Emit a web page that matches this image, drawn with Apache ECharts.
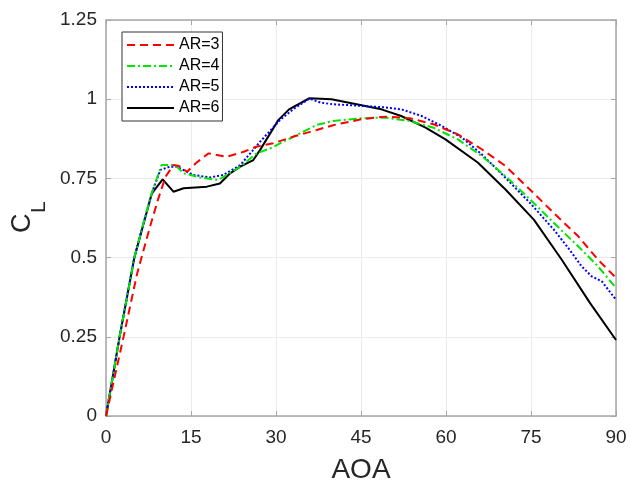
<!DOCTYPE html>
<html>
<head>
<meta charset="utf-8">
<script src="https://cdn.jsdelivr.net/npm/echarts@6/dist/echarts.min.js"></script>
<style>
html,body{margin:0;padding:0;background:#fff;overflow:hidden;}
#c{width:630px;height:482px;}
</style>
</head>
<body>
<div id="c"></div>
<script>
var xTicks = [0, 15, 30, 45, 60, 75, 90];
var yTicks = [0, 0.25, 0.5, 0.75, 1, 1.25];
var seriesNames = ['AR=3', 'AR=4', 'AR=5', 'AR=6'];

var ar3X = [0, 3.1, 5.5, 7.8, 9.3, 10.5, 11.9, 12.9, 14.3, 16.0, 18.1, 21.3, 24.3, 26.5, 29.5, 33.1, 37.2, 40.1, 45.1, 49.3, 53.6, 57.8, 62.1, 66.3, 70.5, 74.8, 79.0, 83.3, 86.8, 90];
var ar3Y = [0, 0.25, 0.45, 0.60, 0.69, 0.755, 0.792, 0.789, 0.771, 0.80, 0.829, 0.818, 0.834, 0.850, 0.861, 0.882, 0.903, 0.918, 0.937, 0.945, 0.940, 0.921, 0.889, 0.842, 0.789, 0.715, 0.641, 0.568, 0.494, 0.436];

var ar4X = [0, 2.4, 5.0, 8.0, 9.8, 12.2, 13.7, 16.6, 19.8, 21.3, 23.7, 26.6, 29.0, 31.9, 37.2, 40.1, 45.1, 49.3, 53.6, 57.8, 62.1, 66.3, 70.5, 74.8, 79.0, 83.3, 86.8, 90];
var ar4Y = [0, 0.25, 0.50, 0.70, 0.792, 0.792, 0.766, 0.753, 0.745, 0.761, 0.787, 0.829, 0.845, 0.871, 0.919, 0.931, 0.940, 0.942, 0.931, 0.910, 0.873, 0.821, 0.757, 0.684, 0.610, 0.536, 0.473, 0.404];

var ar5X = [0, 2.4, 5.0, 8.0, 9.6, 11.3, 12.5, 15.4, 18.4, 20.7, 23.7, 27.2, 30.7, 33.0, 35.9, 37.9, 40.1, 45.1, 49.3, 52.1, 55.7, 59.2, 62.8, 66.3, 70.5, 74.8, 79.0, 81.8, 83.9, 85.7, 87.5, 90];
var ar5Y = [0, 0.25, 0.50, 0.70, 0.777, 0.787, 0.787, 0.761, 0.753, 0.761, 0.792, 0.866, 0.934, 0.968, 1.002, 0.989, 0.984, 0.979, 0.974, 0.968, 0.947, 0.916, 0.879, 0.826, 0.752, 0.673, 0.589, 0.525, 0.473, 0.441, 0.425, 0.367];

var ar6X = [0, 2.4, 5.0, 8.1, 10.0, 11.9, 13.7, 17.8, 20.1, 21.9, 23.7, 26.0, 27.2, 30.4, 32.3, 35.9, 39.8, 45.1, 48.6, 52.1, 56.4, 59.9, 65.6, 70.5, 75.5, 80.4, 85.4, 90];
var ar6Y = [0, 0.25, 0.50, 0.703, 0.747, 0.708, 0.719, 0.724, 0.734, 0.766, 0.787, 0.808, 0.840, 0.934, 0.968, 1.003, 1.000, 0.981, 0.968, 0.947, 0.910, 0.873, 0.800, 0.715, 0.620, 0.494, 0.357, 0.240];

function pairs(xs, ys) { return xs.map(function (x, i) { return [x, ys[i]]; }); }

var colors = ['#ff0000', '#00e600', '#0000ff', '#000000'];
var dashes = [[8, 5], [8, 3, 2, 3], [2, 2], 'solid'];
var datas = [pairs(ar3X, ar3Y), pairs(ar4X, ar4Y), pairs(ar5X, ar5Y), pairs(ar6X, ar6Y)];

var font = 'Arial, "Liberation Sans", Helvetica, sans-serif';
var axisGrey = '#a6a6a6';
var labelCol = '#262626';

var chart = echarts.init(document.getElementById('c'));
chart.setOption({
  animation: false,
  backgroundColor: '#fff',
  grid: { left: 106, right: 14, top: 20, bottom: 66, show: false, containLabel: false, outerBoundsMode: 'none' },
  legend: {
    orient: 'vertical', left: 122, top: 32,
    padding: [5, 3, 5, 4],
    itemWidth: 47, itemHeight: 14, itemGap: 5,
    borderColor: '#333', borderWidth: 1, backgroundColor: '#fff',
    itemStyle: { opacity: 0 },
    textStyle: { fontSize: 16, fontFamily: font, color: '#000', padding: [0, 0, 0, 0] },
    data: seriesNames
  },
  xAxis: [{
    type: 'value', min: 0, max: 90, interval: 15, position: 'bottom',
    name: 'AOA', nameLocation: 'middle', nameGap: 40,
    nameTextStyle: { fontSize: 28, fontFamily: font, color: labelCol },
    axisLine: { show: true, lineStyle: { color: axisGrey, width: 1.5 } },
    axisTick: { show: true, inside: true, length: 5, lineStyle: { color: axisGrey } },
    axisLabel: { fontSize: 19, fontFamily: font, color: labelCol, margin: 12 },
    splitLine: { show: true, lineStyle: { color: '#ebebeb', width: 1 } }
  }, {
    type: 'value', min: 0, max: 90, interval: 15, position: 'top',
    axisLine: { show: true, onZero: false, lineStyle: { color: axisGrey, width: 1.5 } },
    axisTick: { show: true, inside: true, length: 5, lineStyle: { color: axisGrey } },
    axisLabel: { show: false }, splitLine: { show: false }
  }],
  yAxis: [{
    type: 'value', min: 0, max: 1.25, interval: 0.25, position: 'left',
    axisLine: { show: true, lineStyle: { color: axisGrey, width: 1.5 } },
    axisTick: { show: true, inside: true, length: 5, lineStyle: { color: axisGrey } },
    axisLabel: { fontSize: 19, fontFamily: font, color: labelCol, margin: 9 },
    splitLine: { show: true, lineStyle: { color: '#ebebeb', width: 1 } }
  }, {
    type: 'value', min: 0, max: 1.25, interval: 0.25, position: 'right',
    axisLine: { show: true, onZero: false, lineStyle: { color: axisGrey, width: 1.5 } },
    axisTick: { show: true, inside: true, length: 5, lineStyle: { color: axisGrey } },
    axisLabel: { show: false }, splitLine: { show: false }
  }],
  graphic: [{
    type: 'group', x: 22.5, y: 233, rotation: Math.PI / 2,
    children: [
      { type: 'text', x: 0, y: 0, style: { text: 'C', fontSize: 27, fontFamily: font, fill: labelCol, verticalAlign: 'middle', align: 'left' } },
      { type: 'text', x: 20, y: 17, style: { text: 'L', fontSize: 21, fontFamily: font, fill: labelCol, verticalAlign: 'middle', align: 'left' } }
    ]
  }],
  series: seriesNames.map(function (n, i) {
    return {
      name: n, type: 'line', xAxisIndex: 0, yAxisIndex: 0,
      data: datas[i], symbol: 'none', smooth: false,
      lineStyle: { color: colors[i], width: 2, type: dashes[i] },
      itemStyle: { color: colors[i] },
      z: 10 - i
    };
  })
});
</script>
</body>
</html>
